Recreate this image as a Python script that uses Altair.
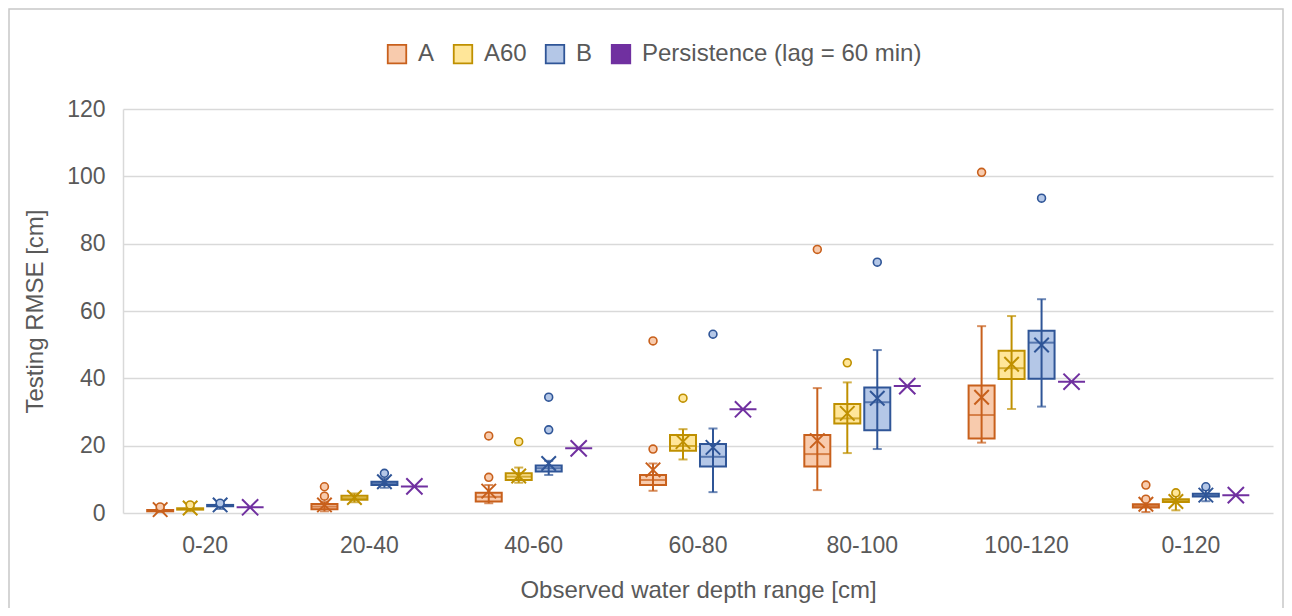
import altair as alt
import pandas as pd

categories = ["0-20", "20-40", "40-60", "60-80", "80-100", "100-120", "0-120"]
series = ["A", "A60", "B", "Persistence (lag = 60 min)"]
line_colors = ["#C8601C", "#BF9000", "#2F5597", "#7030A0"]
fill_colors = ["#F8CBAD", "#FFE699", "#B4C7E7", "#7030A0"]

# Model A
a_min = [0.3, 0.5, 2.9, 6.6, 6.8, 20.9, 0.3]
a_q1 = [0.5, 1.1, 3.4, 8.3, 13.8, 22.1, 1.6]
a_med = [0.7, 1.9, 4.8, 9.8, 17.5, 29.1, 2.1]
a_q3 = [0.9, 2.7, 6.0, 11.3, 23.2, 37.9, 2.6]
a_max = [1.2, 3.3, 8.3, 14.7, 37.1, 55.5, 3.6]
a_mean = [1.0, 2.4, 6.5, 12.8, 21.5, 34.4, 2.6]
a_out = [[1.8], [5.0, 7.8], [10.6, 22.9], [19.0, 51.1], [78.3], [101.2], [4.1, 8.3]]

# Model A60
a60_min = [0.5, 3.2, 9.0, 15.9, 17.8, 30.9, 0.8]
a60_q1 = [1.0, 3.9, 9.8, 18.5, 26.6, 39.8, 3.3]
a60_med = [1.2, 4.4, 10.8, 19.9, 28.1, 43.0, 3.7]
a60_q3 = [1.4, 5.1, 11.8, 23.2, 32.4, 48.2, 4.1]
a60_max = [1.9, 5.8, 13.5, 24.9, 38.8, 58.5, 5.5]
a60_mean = [1.5, 4.6, 11.0, 21.2, 29.6, 44.2, 3.4]
a60_out = [[2.4], [], [21.2], [34.1], [44.6], [], [6.0]]

# Model B
b_min = [1.2, 7.5, 11.3, 6.2, 19.0, 31.6, 3.5]
b_q1 = [2.0, 8.3, 12.3, 13.8, 24.6, 39.9, 4.9]
b_med = [2.2, 8.8, 13.3, 16.7, 32.9, 50.6, 5.2]
b_q3 = [2.4, 9.3, 14.1, 20.5, 37.3, 54.1, 5.7]
b_max = [2.7, 10.3, 15.5, 25.1, 48.4, 63.5, 6.8]
b_mean = [2.4, 9.3, 14.7, 19.5, 34.1, 49.9, 5.3]
b_out = [[2.9], [11.8], [24.7, 34.4], [53.1], [74.5], [93.5], [7.8]]

# Persistence (lag = 60 min)
persistence = [1.7, 7.9, 19.2, 30.8, 37.7, 39.0, 5.3]

box_rows = []
out_rows = []
for name, mn, q1, md, q3, mx, me, outs in [
    ("A", a_min, a_q1, a_med, a_q3, a_max, a_mean, a_out),
    ("A60", a60_min, a60_q1, a60_med, a60_q3, a60_max, a60_mean, a60_out),
    ("B", b_min, b_q1, b_med, b_q3, b_max, b_mean, b_out),
]:
    for i, c in enumerate(categories):
        box_rows.append(dict(cat=c, series=name, lo=mn[i], q1=q1[i], med=md[i],
                             q3=q3[i], hi=mx[i], mean=me[i]))
        for v in outs[i]:
            out_rows.append(dict(cat=c, series=name, v=v))
box_df = pd.DataFrame(box_rows)
out_df = pd.DataFrame(out_rows)
pers_df = pd.DataFrame(dict(cat=categories, series=series[3], v=persistence))

FONT = "Liberation Sans"
GREY = "#595959"

x_axis = alt.Axis(title="Observed water depth range [cm]", labelFontSize=23, titleFontSize=24,
                  labelPadding=32, labelBaseline="middle", ticks=False, domain=False, grid=False,
                  labelAngle=0, titleX=575, titleY=77, titleBaseline="middle")
x_scale = alt.Scale(domain=categories, paddingInner=0.27, paddingOuter=0.135)
y_axis = alt.Axis(title="Testing RMSE [cm]", values=[0, 20, 40, 60, 80, 100, 120], labelFontSize=23,
                  titleFontSize=24, labelPadding=18, ticks=False, grid=True, gridColor="#D9D9D9",
                  gridWidth=1.5, domain=True, domainColor="#D9D9D9", domainWidth=1.5,
                  titleX=-88, titleY=202, titleAngle=270, titleAlign="center", titleBaseline="middle")
y_scale = alt.Scale(domain=[0, 120], nice=False)

X = alt.X("cat:N", scale=x_scale, sort=categories, axis=x_axis)
XO = alt.XOffset("series:N", scale=alt.Scale(domain=series, paddingInner=0, paddingOuter=0))


def Y(field):
    return alt.Y(field + ":Q", scale=y_scale, axis=y_axis)


legend = alt.Legend(title=None, orient="none", legendX=262, legendY=-67, direction="horizontal",
                    symbolType="square", symbolSize=342, symbolStrokeWidth=1.8, labelFontSize=24,
                    labelOffset=9, columnPadding=15, padding=0, labelColor=GREY, labelFont=FONT,
                    labelLimit=500)
color_line = alt.Color("series:N", scale=alt.Scale(domain=series, range=line_colors), legend=None)
stroke_scale = alt.Scale(domain=series, range=line_colors)
fill_scale = alt.Scale(domain=series, range=fill_colors)

X_PATH = "M-1,-1L1,1M-1,1L1,-1"
STAR_PATH = "M-0.6,-0.6L0.6,0.6M-0.6,0.6L0.6,-0.6M-1,0L1,0"

whisker = alt.Chart(box_df).mark_rule(strokeWidth=2).encode(
    x=X, xOffset=XO, y=Y("lo"), y2=alt.Y2("hi:Q"), color=color_line)
cap_lo = alt.Chart(box_df).mark_tick(size=9, thickness=2).encode(
    x=X, xOffset=XO, y=Y("lo"), color=color_line)
cap_hi = alt.Chart(box_df).mark_tick(size=9, thickness=2).encode(
    x=X, xOffset=XO, y=Y("hi"), color=color_line)
box = alt.Chart(box_df).mark_bar(width=26, strokeWidth=2).encode(
    x=X, xOffset=XO, y=Y("q1"), y2=alt.Y2("q3:Q"),
    fill=alt.Fill("series:N", scale=fill_scale, legend=legend),
    stroke=alt.Stroke("series:N", scale=stroke_scale, legend=legend))
median = alt.Chart(box_df).mark_tick(size=26, thickness=2).encode(
    x=X, xOffset=XO, y=Y("med"), color=color_line)
mean = alt.Chart(box_df).mark_point(shape=X_PATH, filled=False, size=210, strokeWidth=2, opacity=1).encode(
    x=X, xOffset=XO, y=Y("mean"), color=color_line)
outliers = alt.Chart(out_df).mark_point(shape="circle", filled=True, size=62, strokeWidth=1.6, opacity=1).encode(
    x=X, xOffset=XO, y=Y("v"),
    fill=alt.Fill("series:N", scale=fill_scale, legend=None),
    stroke=alt.Stroke("series:N", scale=stroke_scale, legend=None))
pers = alt.Chart(pers_df).mark_point(shape=STAR_PATH, filled=False, size=729, strokeWidth=2, opacity=1).encode(
    x=X, xOffset=XO, y=Y("v"), color=color_line)

frame = alt.Chart(pd.DataFrame({"k": [0]})).mark_rect(filled=False, stroke="#C8C8C8", strokeWidth=1.5).encode(
    x=alt.value(-114), x2=alt.value(1160), y=alt.value(-100), y2=alt.value(600))

chart = alt.layer(box, frame, whisker, cap_lo, cap_hi, median, mean, outliers, pers).properties(
    width=1150, height=404,
    autosize=alt.AutoSizeParams(type="none"),
    padding={"left": 115, "top": 101, "right": 11, "bottom": 95},
).configure_view(stroke=None).configure_axis(
    labelColor=GREY, titleColor=GREY, labelFont=FONT, titleFont=FONT, titleFontWeight="normal"
)

chart.save("out.html", embed_options={"renderer": "svg", "actions": False})
